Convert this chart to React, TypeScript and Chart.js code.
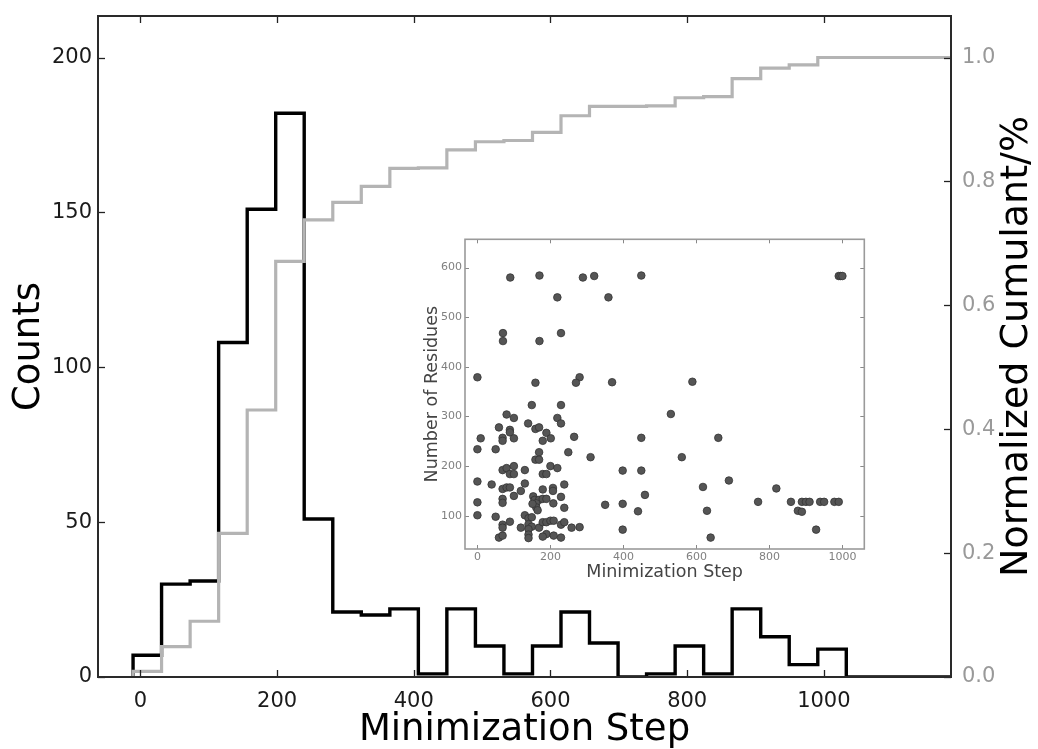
import { useEffect, useRef } from "react";
import { Chart, registerables } from "chart.js";

Chart.register(...registerables);

const FONT = "'DejaVu Sans', 'Liberation Sans', sans-serif";

// ---- main histogram data ----
const binEdges = [
  -10.7, 31.0, 72.8, 114.5, 156.3, 198.0, 239.7, 281.5, 323.2, 365.0, 406.7, 448.4, 490.2,
  531.9, 573.7, 615.4, 657.1, 698.9, 740.6, 782.4, 824.1, 865.8, 907.6, 949.3, 991.1, 1032.8,
];
const counts = [7, 30, 31, 108, 151, 182, 51, 21, 20, 22, 1, 22, 10, 1, 10, 21, 11, 0, 1, 10, 1, 22, 13, 4, 9];
const cumulantFraction = [
  0.009, 0.049, 0.09, 0.232, 0.431, 0.671, 0.738, 0.766, 0.792, 0.821, 0.822, 0.851, 0.864,
  0.866, 0.879, 0.906, 0.921, 0.921, 0.922, 0.935, 0.937, 0.966, 0.983, 0.988, 1.0,
];
const stepTicks = [0, 200, 400, 600, 800, 1000];
const countTicks = [0, 50, 100, 150, 200];
const fractionTicks = [0, 0.2, 0.4, 0.6, 0.8, 1.0];
const X_MIN = -62;
const X_MAX = 1186;

// ---- inset scatter data ----
const insetSteps = [
  90, 170, 289, 320, 449, 990, 995, 1000, 219, 359, 70, 70, 170, 229, 0, 159, 280, 270, 369, 589,
  149, 229, 530, 80, 100, 219, 229, 139, 59, 89, 89, 159, 169, 189, 9, 69, 69, 100, 179, 201,
  265, 449, 660, 0, 50, 249, 169, 159, 169, 310, 560, 69, 80, 100, 130, 179, 189, 200, 219, 89,
  100, 398, 449, 0, 39, 689, 69, 80, 89, 130, 238, 119, 100, 153, 179, 207, 207, 618, 819, 157,
  169, 179, 189, 229, 161, 161, 151, 165, 208, 238, 69, 69, 0, 459, 350, 398, 769, 859, 889, 900,
  910, 939, 950, 978, 990, 629, 878, 889, 440, 0, 50, 130, 69, 69, 89, 119, 140, 149, 140, 149,
  140, 140, 140, 169, 179, 189, 200, 209, 189, 179, 209, 229, 229, 238, 258, 280, 59, 69, 398, 928,
  639,
];
const insetResidues = [
  580, 584, 580, 583, 584, 583, 583, 583, 540, 540, 468, 452, 452, 468, 379, 368, 379, 368, 369, 370,
  323, 323, 305, 304, 297, 297, 286, 286, 278, 273, 268, 275, 278, 267, 256, 257, 251, 256, 251, 256,
  259, 257, 257, 234, 234, 228, 228, 213, 213, 218, 218, 192, 196, 200, 192, 184, 184, 200, 196, 184,
  184, 191, 191, 169, 163, 171, 154, 157, 157, 165, 163, 150, 140, 139, 153, 156, 150, 158, 155, 132,
  132, 134, 134, 138, 125, 117, 124, 111, 125, 116, 134, 126, 127, 142, 122, 124, 128, 128, 128, 128,
  128, 128, 128, 128, 128, 110, 110, 108, 109, 101, 98, 101, 82, 76, 88, 76, 95, 97, 83, 78,
  73, 62, 55, 76, 87, 87, 90, 90, 63, 58, 60, 56, 82, 87, 76, 77, 56, 60, 72, 72,
  56,
];
const insetXTicks = [0, 200, 400, 600, 800, 1000];
const insetYTicks = [100, 200, 300, 400, 500, 600];

const plainNumber = (v: any) => String(v);

const fixWidth = (w: number) => (s: any) => {
  s.width = w;
  s.paddingTop = 0;
  s.paddingBottom = 0;
};
const fixHeight = (h: number) => (s: any) => {
  s.height = h;
  s.paddingLeft = 0;
  s.paddingRight = 0;
};

const frameAndTicks = {
  id: "frameAndTicks",
  afterDraw(chart: any, _args: any, opts: any) {
    const { ctx, chartArea: a } = chart;
    ctx.save();
    ctx.strokeStyle = opts.tickColor;
    ctx.lineWidth = opts.tickWidth;
    const L = opts.tickLength;
    for (const id of Object.keys(chart.scales)) {
      const s = chart.scales[id];
      for (const t of s.ticks) {
        const p = Math.round(s.getPixelForValue(t.value)) + 0.5;
        ctx.beginPath();
        if (s.isHorizontal()) {
          ctx.moveTo(p, a.bottom);
          ctx.lineTo(p, a.bottom - L);
          if (opts.mirrorX) {
            ctx.moveTo(p, a.top);
            ctx.lineTo(p, a.top + L);
          }
        } else if (s.position === "left") {
          ctx.moveTo(a.left, p);
          ctx.lineTo(a.left + L, p);
          if (opts.mirrorY) {
            ctx.moveTo(a.right, p);
            ctx.lineTo(a.right - L, p);
          }
        } else {
          ctx.moveTo(a.right, p);
          ctx.lineTo(a.right - L, p);
        }
        ctx.stroke();
      }
    }
    ctx.strokeStyle = opts.frameColor;
    ctx.lineWidth = opts.frameWidth;
    ctx.strokeRect(a.left, a.top, a.right - a.left, a.bottom - a.top);
    if (opts.rightTitle) {
      const rt = opts.rightTitle;
      ctx.translate(rt.x, (a.top + a.bottom) / 2);
      ctx.rotate(-Math.PI / 2);
      ctx.fillStyle = rt.color;
      ctx.font = `${rt.size}px ${FONT}`;
      ctx.textAlign = "center";
      ctx.textBaseline = "middle";
      ctx.fillText(rt.text, 0, 0);
    }
    ctx.restore();
  },
};

export default function App() {
  const mainRef = useRef<HTMLCanvasElement>(null);
  const insetRef = useRef<HTMLCanvasElement>(null);

  useEffect(() => {
    const blackSteps = [
      { x: binEdges[0], y: 0 },
      ...counts.map((c, i) => ({ x: binEdges[i], y: c })),
      { x: binEdges[binEdges.length - 1], y: 0 },
      { x: X_MAX, y: 0 },
    ];
    const graySteps = [
      { x: binEdges[0], y: 0 },
      ...cumulantFraction.map((c, i) => ({ x: binEdges[i], y: c })),
      { x: X_MAX, y: cumulantFraction[cumulantFraction.length - 1] },
    ];

    const main = new Chart(mainRef.current!, {
      type: "line",
      data: {
        datasets: [
          {
            label: "Cumulant",
            data: graySteps,
            yAxisID: "y1",
            stepped: "before",
            borderColor: "#b4b4b4",
            borderWidth: 3.2,
            pointRadius: 0,
            fill: false,
            borderJoinStyle: "miter",
          },
          {
            label: "Counts",
            data: blackSteps,
            yAxisID: "y",
            stepped: "before",
            borderColor: "#000000",
            borderWidth: 3.4,
            pointRadius: 0,
            fill: false,
            borderJoinStyle: "miter",
          },
        ],
      },
      options: {
        responsive: false,
        animation: false,
        devicePixelRatio: 1,
        layout: { padding: { top: 16, left: 0, right: 0, bottom: 0 } },
        plugins: {
          legend: { display: false },
          tooltip: { enabled: false },
          frameAndTicks: {
            tickColor: "#222",
            tickWidth: 1.3,
            tickLength: 7,
            mirrorX: true,
            mirrorY: false,
            frameColor: "#2a2a2a",
            frameWidth: 2,
            rightTitle: { text: "Normalized Cumulant/%", x: 1017, size: 38, color: "#000" },
          },
        } as any,
        scales: {
          x: {
            type: "linear",
            position: "bottom",
            min: X_MIN,
            max: X_MAX,
            afterBuildTicks: (s: any) => {
              s.ticks = stepTicks.map((v) => ({ value: v }));
            },
            afterFit: fixHeight(72),
            grid: { display: false, drawTicks: false },
            border: { display: false },
            ticks: {
              font: { family: FONT, size: 21 },
              color: "#1a1a1a",
              padding: 12,
              maxRotation: 0,
              autoSkip: false,
              callback: plainNumber,
            },
            title: {
              display: true,
              text: "Minimization Step",
              font: { family: FONT, size: 37 },
              color: "#000",
              padding: { top: 0, bottom: -4 },
            },
          },
          y: {
            type: "linear",
            position: "left",
            min: 0,
            max: 213.4,
            afterBuildTicks: (s: any) => {
              s.ticks = countTicks.map((v) => ({ value: v }));
            },
            afterFit: fixWidth(98),
            grid: { display: false, drawTicks: false },
            border: { display: false },
            ticks: {
              font: { family: FONT, size: 21 },
              color: "#1a1a1a",
              padding: 6,
              callback: plainNumber,
            },
            title: {
              display: true,
              text: "Counts",
              font: { family: FONT, size: 37 },
              color: "#000",
              padding: { top: 7, bottom: 0 },
            },
          },
          y1: {
            type: "linear",
            position: "right",
            min: 0,
            max: 1.067,
            afterBuildTicks: (s: any) => {
              s.ticks = fractionTicks.map((v) => ({ value: v }));
            },
            afterFit: fixWidth(87),
            grid: { display: false, drawTicks: false },
            border: { display: false },
            ticks: {
              font: { family: FONT, size: 21 },
              color: "#999999",
              padding: 11,
              callback: (v: any) => Number(v).toFixed(1),
            },
          },
        },
      },
      plugins: [frameAndTicks as any],
    });

    const inset = new Chart(insetRef.current!, {
      type: "scatter",
      data: {
        datasets: [
          {
            label: "Residues",
            data: insetSteps.map((x, i) => ({ x, y: insetResidues[i] })),
            pointRadius: 3.8,
            backgroundColor: "#555555",
            borderColor: "#333333",
            borderWidth: 0.8,
          },
        ],
      },
      options: {
        responsive: false,
        animation: false,
        devicePixelRatio: 1,
        layout: { padding: { top: 7.3, right: 10.7, left: 0, bottom: 0 } },
        plugins: {
          legend: { display: false },
          tooltip: { enabled: false },
          frameAndTicks: {
            tickColor: "#888",
            tickWidth: 1,
            tickLength: 4,
            mirrorX: true,
            mirrorY: true,
            frameColor: "#9a9a9a",
            frameWidth: 1.6,
          },
        } as any,
        scales: {
          x: {
            type: "linear",
            min: -34,
            max: 1060,
            afterBuildTicks: (s: any) => {
              s.ticks = insetXTicks.map((v) => ({ value: v }));
            },
            afterFit: fixHeight(43),
            grid: { display: false, drawTicks: false },
            border: { display: false },
            ticks: {
              font: { family: FONT, size: 11 },
              color: "#808080",
              padding: 1.5,
              maxRotation: 0,
              autoSkip: false,
              callback: plainNumber,
            },
            title: {
              display: true,
              text: "Minimization Step",
              font: { family: FONT, size: 17.5 },
              color: "#444",
              padding: { top: 0, bottom: 8.8 },
            },
          },
          y: {
            type: "linear",
            min: 33,
            max: 657,
            afterBuildTicks: (s: any) => {
              s.ticks = insetYTicks.map((v) => ({ value: v }));
            },
            afterFit: fixWidth(50),
            grid: { display: false, drawTicks: false },
            border: { display: false },
            ticks: {
              font: { family: FONT, size: 11 },
              color: "#808080",
              padding: 3,
              callback: plainNumber,
            },
            title: {
              display: true,
              text: "Number of Residues",
              font: { family: FONT, size: 17.5 },
              color: "#444",
              padding: { top: 6.5, bottom: 0 },
            },
          },
        },
      },
      plugins: [frameAndTicks as any],
    });

    return () => {
      main.destroy();
      inset.destroy();
    };
  }, []);

  return (
    <div style={{ position: "fixed", left: 0, top: 0, width: 1038, height: 749, background: "#fff" }}>
      <canvas ref={mainRef} width={1038} height={749} style={{ position: "absolute", left: 0, top: 0 }} />
      <canvas ref={insetRef} width={460} height={360} style={{ position: "absolute", left: 415, top: 232 }} />
    </div>
  );
}
